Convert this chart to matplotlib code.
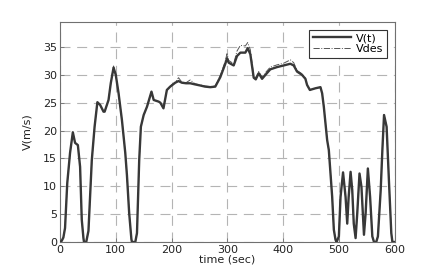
import matplotlib
matplotlib.use("Agg")
import matplotlib.pyplot as plt

# time (sec)
t = [0, 3, 6, 9, 13, 18, 23, 27, 32, 36, 39, 42, 43, 47, 51, 57, 62, 67, 72, 78,
     80, 87, 91, 96, 100, 105, 111, 117, 120, 124, 128, 129, 135, 138, 142, 145,
     150, 156, 164, 168, 177, 180, 185.5, 191.6, 197.6, 206.6, 212.5, 218.5, 226,
     233.5, 242, 251.5, 260, 269.5, 278.4, 287.4, 296.4, 299.4, 302.4, 311.4,
     317.4, 323.4, 332.3, 336.5, 341.3, 347.3, 351, 356.3, 362.3, 370, 377, 389,
     401, 413, 419, 425, 434, 440, 443, 448, 458, 467, 470, 473, 479, 482, 488,
     491, 494, 496, 500, 503, 507.5, 512, 515, 517.5, 521, 524, 526.7, 530, 533,
     537, 540.5, 545, 548, 552, 556, 560, 563, 567, 570, 575, 578, 581, 585.6,
     590, 594, 596, 600]

# measured speed V(t)
v = [0, 0.2, 0.8, 2.5, 10.6, 16, 19.7, 17.8, 17.4, 13.5, 4, 0.7, 0, 0, 2, 14.7,
     20.7, 25.1, 24.6, 23.4, 23.4, 25.5, 28.5, 31.3, 30, 26.7, 21.9, 16, 12, 5.2,
     0.5, 0, 0, 1.6, 14.7, 20.7, 22.8, 24.3, 27, 25.5, 25.2, 25, 24, 27.3, 27.9,
     28.6, 28.9, 28.6, 28.5, 28.5, 28.3, 28.1, 27.9, 27.8, 27.9, 29.6, 32, 33.0,
     32.2, 31.7, 33.4, 34.0, 34.0, 34.8, 33.7, 29.5, 29.2, 30.3, 29.3, 30.2, 31,
     31.4, 31.7, 32.0, 31.7, 30.6, 30.0, 29.3, 28.2, 27.3, 27.6, 27.8, 26.7, 24.3,
     18.3, 16.5, 8.1, 2.2, 0.4, 0, 1, 8.1, 12.5, 8.1, 3.3, 8, 12.6, 9.3, 3.3, 0.7,
     5.2, 12.3, 9.9, 1.3, 5.2, 13.2, 8.1, 1, 0, 0, 1, 9.3, 16.5, 22.8, 20.7, 10.5,
     1.6, 0, 0]

# desired speed Vdes
vdes = [0, 0.2, 0.8, 2.5, 10.6, 16, 19.7, 17.8, 17.4, 13.5, 4, 0.7, 0, 0, 2, 14.7,
        20.7, 25.1, 24.6, 23.4, 23.4, 25.5, 28.5, 31.6, 30, 26.7, 21.9, 16, 12, 5.2,
        0.5, 0, 0, 1.6, 14.7, 20.7, 22.8, 24.3, 27, 25.5, 25.2, 25, 24, 27.3, 28.0,
        28.7, 29.5, 28.7, 28.6, 29.1, 28.4, 28.2, 28.0, 27.9, 28.0, 29.9, 32.5, 33.8,
        32.6, 32.0, 34.3, 35.3, 35.2, 35.8, 34.5, 29.8, 29.5, 30.6, 29.6, 30.6, 31.4,
        31.8, 32.1, 32.7, 32.2, 30.8, 30.2, 29.4, 28.2, 27.3, 27.6, 27.8, 26.7, 24.3,
        18.3, 16.5, 8.1, 2.2, 0.4, 0, 1, 8.1, 12.5, 8.1, 3.3, 8, 12.6, 9.3, 3.3, 0.7,
        5.2, 12.3, 9.9, 1.3, 5.2, 13.2, 8.1, 1, 0, 0, 1, 9.3, 16.5, 22.8, 20.7, 10.5,
        1.6, 0, 0]

xticks = [0, 100, 200, 300, 400, 500, 600]
yticks = [0, 5, 10, 15, 20, 25, 30, 35]

plt.rcParams['font.family'] = ['DejaVu Sans']
fig = plt.figure(figsize=(4.33, 2.74), dpi=100)
ax = fig.add_axes([0.1386, 0.1168, 0.7728, 0.8029])

ax.plot(t, v, color='#383838', lw=1.7, label='V(t)', zorder=3)
ax.plot(t, vdes, color='#555555', lw=0.7, ls='-.', label='Vdes', zorder=2)

ax.set_xlim(0, 600)
ax.set_ylim(0, 39.5)
ax.set_xticks(xticks)
ax.set_yticks(yticks)
ax.grid(True, color='#b4b4b4', ls=(0, (9, 6)), lw=0.8)
for s in ax.spines.values():
    s.set_color('#707070')
    s.set_linewidth(0.8)
ax.tick_params(direction='in', length=3, width=0.6, colors='#707070',
               labelcolor='#222222', labelsize=8, pad=2)
ax.set_xlabel('time (sec)', fontsize=8, color='#222222', labelpad=0)
ax.set_ylabel('V(m/s)', fontsize=8, color='#222222', labelpad=8)

leg = ax.legend(loc='upper right', fontsize=8, frameon=True, fancybox=False,
                borderaxespad=0.7, handlelength=3.4, handletextpad=0.5,
                borderpad=0.3, labelspacing=0.1)
leg.get_frame().set_edgecolor('#333333')
leg.get_frame().set_linewidth(0.8)
leg.get_frame().set_alpha(1)

fig.savefig('out.png', dpi=100)
